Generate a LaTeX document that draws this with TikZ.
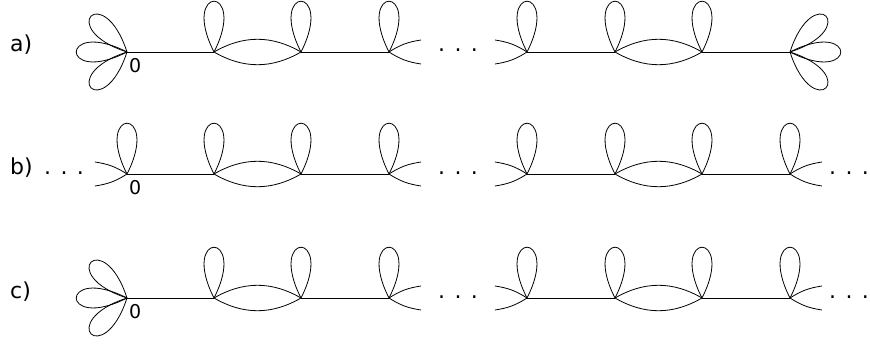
\documentclass[tikz,border=0pt]{standalone}
\usepackage{fontspec}
\setmainfont{DejaVu Sans}
\tikzset{
  edge/.style={line width=0.8pt},
  lbl/.style={inner sep=0pt, anchor=base west, font=\fontsize{22}{26}\selectfont},
  zero/.style={inner sep=0pt, anchor=north west, font=\fontsize{19}{22}\selectfont},
}
\newcommand\lp[2]{%
  \pgfmathsetmacro\la{#2-27}\pgfmathsetmacro\lb{#2+27}%
  \draw[edge] (#1) .. controls +(\la:76pt) and +(\lb:76pt) .. (#1);}
\newcommand\hr[1]{%
  \coordinate (#1u) at ($(#1)+(32,-12)$);\coordinate (#1d) at ($(#1)+(32,12)$);
  \draw[edge] (#1) to[bend left=12] (#1u);\draw[edge] (#1) to[bend right=12] (#1d);}
\newcommand\hl[1]{%
  \coordinate (#1u) at ($(#1)+(-32,-12)$);\coordinate (#1d) at ($(#1)+(-32,12)$);
  \draw[edge] (#1) to[bend right=12] (#1u);\draw[edge] (#1) to[bend left=12] (#1d);}
\usetikzlibrary{calc}
\begin{document}
\begin{tikzpicture}[x=1pt,y=-1pt]
\useasboundingbox (0,0) rectangle (870,345);
% vertices
\foreach \r/\yy in {a/52,b/174,c/298}{
  \foreach \i/\xx in {1/127,2/214,3/301,4/389,5/527,6/615,7/702,8/790}{
    \coordinate (\r\i) at (\xx,\yy);
  }
}
% row labels
\node[lbl] (la) at (10,52) {a)};
\node[lbl] (lb) at (10,174) {b)};
\node[lbl] (lc) at (10,298) {c)};
% zero labels
\node[zero] (za) at (129,58) {0};
\node[zero] (zb) at (129,180) {0};
\node[zero] (zc) at (129,304) {0};
% dots
\node[lbl] (da) at (438,52) {. . .};
\node[lbl] (dbl) at (44,174) {. . .};
\node[lbl] (db) at (438,174) {. . .};
\node[lbl] (dbr) at (829,174) {. . .};
\node[lbl] (dc) at (438,298) {. . .};
\node[lbl] (dcr) at (829,298) {. . .};
% common structure
\foreach \r in {a,b,c}{
  \draw[edge] (\r1) -- (\r2);
  \draw[edge] (\r2) to[bend left=30] (\r3);
  \draw[edge] (\r2) to[bend right=30] (\r3);
  \draw[edge] (\r3) -- (\r4);
  \draw[edge] (\r5) -- (\r6);
  \draw[edge] (\r6) to[bend left=30] (\r7);
  \draw[edge] (\r6) to[bend right=30] (\r7);
  \draw[edge] (\r7) -- (\r8);
}
% row a
\lp{a1}{135}\lp{a1}{180}\lp{a1}{225}
\lp{a2}{90}\lp{a3}{90}\lp{a4}{90}\hr{a4}
\hl{a5}\lp{a5}{90}\lp{a6}{90}\lp{a7}{90}
\lp{a8}{45}\lp{a8}{0}\lp{a8}{-45}
% row b
\hl{b1}\lp{b1}{90}\lp{b2}{90}\lp{b3}{90}\lp{b4}{90}\hr{b4}
\hl{b5}\lp{b5}{90}\lp{b6}{90}\lp{b7}{90}\lp{b8}{90}\hr{b8}
% row c
\lp{c1}{135}\lp{c1}{180}\lp{c1}{225}
\lp{c2}{90}\lp{c3}{90}\lp{c4}{90}\hr{c4}
\hl{c5}\lp{c5}{90}\lp{c6}{90}\lp{c7}{90}\lp{c8}{90}\hr{c8}
\end{tikzpicture}
\end{document}
